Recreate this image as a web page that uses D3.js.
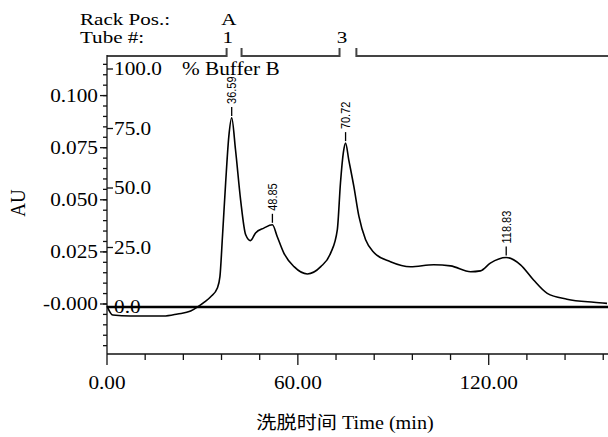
<!DOCTYPE html>
<html>
<head>
<meta charset="utf-8">
<script src="https://cdn.jsdelivr.net/npm/d3@7"></script>
<style>
  body { margin: 0; background: #fff; }
  svg { display: block; }
</style>
</head>
<body>
<div id="chart"></div>
<script>
const timeMin = [0, 1.8, 7.4, 17.8, 22.2, 26.3, 28.5, 30.7, 32.6, 34.7, 35.5, 36.3, 37.3, 38.3, 39.2,
  40.4, 42.0, 43.6, 45.1, 46.7, 49.3, 52.0, 53.5, 55.6, 58.8, 63.0, 67.2, 70.3, 72.4, 73.4, 74.3,
  75.0, 76.0, 77.6, 79.2, 81.3, 83.9, 89.1, 95.4, 102.7, 108.0, 114.3, 117.4, 120.5, 125.5, 130.0,
  134.1, 138.4, 144.6, 153.0, 157.2];
const absorbance = [-0.001, -0.0053, -0.0058, -0.0058, -0.0048, -0.0034, -0.0014, 0.001, 0.0035, 0.0077,
  0.0131, 0.0324, 0.0582, 0.0804, 0.0893, 0.0740, 0.0500, 0.0332, 0.0304, 0.0341, 0.0364, 0.0380,
  0.0324, 0.0244, 0.0179, 0.0144, 0.0179, 0.0244, 0.0356, 0.0582, 0.0726, 0.0772, 0.0692, 0.0564,
  0.0420, 0.0308, 0.0247, 0.0203, 0.0179, 0.0188, 0.0183, 0.0155, 0.0159, 0.0196, 0.0223, 0.0188,
  0.0115, 0.0051, 0.0023, 0.0008, 0.0003];

// % Buffer B (constant à 0 pendant toute l'élution)
const bufferTime = [0, 157.5];
const bufferB = [0, 0];

// Pics annotés
const peakTimes = [39.2, 52.0, 75.0, 125.5];
const peakAU = [0.0893, 0.0380, 0.0772, 0.0223];
const peakLabels = ["36.59", "48.85", "70.72", "118.83"];

// Axes
const auTicks = [0, 0.025, 0.05, 0.075, 0.1];
const auTickLabels = ["-0.000", "0.025", "0.050", "0.075", "0.100"];
const bufferTicks = [0, 25, 50, 75, 100];
const bufferTickLabels = ["0.0", "25.0", "50.0", "75.0", "100.0"];
const timeTicks = [0, 60, 120];
const timeTickLabels = ["0.00", "60.00", "120.00"];

// Tubes du collecteur de fractions
const tubeSegments = [[0, 37.6], [42.3, 73.1], [78.4, 157.5]];
const tubeLabelTimes = [38.0, 73.9];
const tubeLabels = ["1", "3"];
const rackLabel = "A";

//---------------------------------------------------------------------------------------

const width = 608;
const height = 437;
const serif = "'Liberation Serif', 'Times New Roman', 'Noto Sans CJK SC', serif";
const sans = "'Liberation Sans', Arial, sans-serif";
const sx = 1.12; // l'image d'origine est légèrement étirée en largeur

const svg = d3.select("#chart")
  .append("svg")
  .attr("width", width)
  .attr("height", height);

const scaleX = d3.scaleLinear().domain([0, 157.5]).range([107, 608]);
const scaleY = d3.scaleLinear().domain([-0.024, 0.119]).range([354, 56]);
const scaleB = d3.scaleLinear().domain([0, 100]).range([307, 69]);

// texte étiré horizontalement
function txt(x, y, s, size, anchor, family, rot, k) {
  return svg.append("text")
    .attr("transform", `translate(${x},${y}) scale(${k || sx},1)` + (rot ? ` rotate(${rot})` : ""))
    .attr("text-anchor", anchor)
    .attr("font-family", family || serif)
    .attr("font-size", size)
    .attr("fill", "#000")
    .text(s);
}

//---------------------------------------------------------------------------------------

// Titraille du collecteur
txt(80, 25, "Rack Pos.:", 17, "start", serif, 0, 1.24);
txt(80, 43, "Tube #:", 17, "start", serif, 0, 1.24);
txt(scaleX(tubeLabelTimes[0]) + 1, 25, rackLabel, 17, "middle", serif, 0, 1.24);
tubeLabels.forEach((l, i) => txt(scaleX(tubeLabelTimes[i]), 43, l, 17, "middle", serif, 0, 1.24));

const tubes = svg.append("g")
  .attr("stroke", "#444")
  .attr("stroke-width", 2)
  .attr("fill", "none");
tubes.selectAll("path")
  .data(tubeSegments)
  .join("path")
  .attr("d", (d, i) => {
    const a = scaleX(d[0]), b = scaleX(d[1]);
    let p = i > 0 ? `M${a},48V56` : `M${a},56`;
    p += `H${b}`;
    if (i < tubeSegments.length - 1) p += "V48";
    return p;
  });

//---------------------------------------------------------------------------------------

// Axe AU (gauche)
const yAxis = svg.append("g").attr("stroke", "#111").attr("stroke-width", 1.3);
yAxis.append("line")
  .attr("x1", 107).attr("x2", 107)
  .attr("y1", 55).attr("y2", 354);
yAxis.selectAll("line.minor")
  .data(d3.range(-20, 120, 5).map(v => v / 1000))
  .join("line")
  .attr("class", "minor")
  .attr("x1", 103).attr("x2", 107)
  .attr("y1", d => scaleY(d)).attr("y2", d => scaleY(d));
yAxis.selectAll("line.major")
  .data(auTicks)
  .join("line")
  .attr("class", "major")
  .attr("x1", 100).attr("x2", 107)
  .attr("y1", d => scaleY(d)).attr("y2", d => scaleY(d));
auTicks.forEach((v, i) => txt(98, scaleY(v) + 6, auTickLabels[i], 19, "end"));
txt(25, 203, "AU", 19, "middle", serif, -90);

// Axe % Buffer B (intérieur)
yAxis.selectAll("line.buffer")
  .data(bufferTicks)
  .join("line")
  .attr("class", "buffer")
  .attr("x1", 107).attr("x2", 113)
  .attr("y1", d => scaleB(d)).attr("y2", d => scaleB(d));
bufferTicks.forEach((v, i) => txt(114, scaleB(v) + 6, bufferTickLabels[i], 19, "start"));
txt(182, 75, "% Buffer B", 19, "start");

// Axe du temps
const xAxis = svg.append("g").attr("stroke", "#111").attr("stroke-width", 1.3);
xAxis.append("line")
  .attr("x1", 107).attr("x2", width)
  .attr("y1", 354).attr("y2", 354);
xAxis.selectAll("line.tick")
  .data(d3.range(0, 158, 12))
  .join("line")
  .attr("class", "tick")
  .attr("x1", d => scaleX(d)).attr("x2", d => scaleX(d))
  .attr("y1", 354).attr("y2", d => timeTicks.includes(d) ? 365 : 360);
timeTicks.forEach((v, i) => txt(scaleX(v), 389, timeTickLabels[i], 19, "middle"));
txt(345, 429, "洗脱时间 Time (min)", 18, "middle");

//---------------------------------------------------------------------------------------

// Ligne du gradient % Buffer B
svg.append("path")
  .datum(d3.zip(bufferTime, bufferB))
  .attr("fill", "none")
  .attr("stroke", "#000")
  .attr("stroke-width", 2.5)
  .attr("d", d3.line().x(d => scaleX(d[0])).y(d => scaleB(d[1])));

// Courbe d'absorbance
svg.append("path")
  .datum(d3.zip(timeMin, absorbance))
  .attr("fill", "none")
  .attr("stroke", "#000")
  .attr("stroke-width", 1.6)
  .attr("stroke-linejoin", "round")
  .attr("d", d3.line().curve(d3.curveMonotoneX).x(d => scaleX(d[0])).y(d => scaleY(d[1])));

// Étiquettes des pics
const peaks = d3.zip(peakTimes, peakAU, peakLabels);
svg.append("g")
  .selectAll("line")
  .data(peaks)
  .join("line")
  .attr("stroke", "#000")
  .attr("stroke-width", 1.3)
  .attr("x1", d => scaleX(d[0])).attr("x2", d => scaleX(d[0]))
  .attr("y1", d => scaleY(d[1]) - 2).attr("y2", d => scaleY(d[1]) - 11);
peaks.forEach(d => {
  txt(scaleX(d[0]), scaleY(d[1]) - 14, d[2], 11, "start", sans, -90)
    .attr("dy", "0.35em");
});
</script>
</body>
</html>
